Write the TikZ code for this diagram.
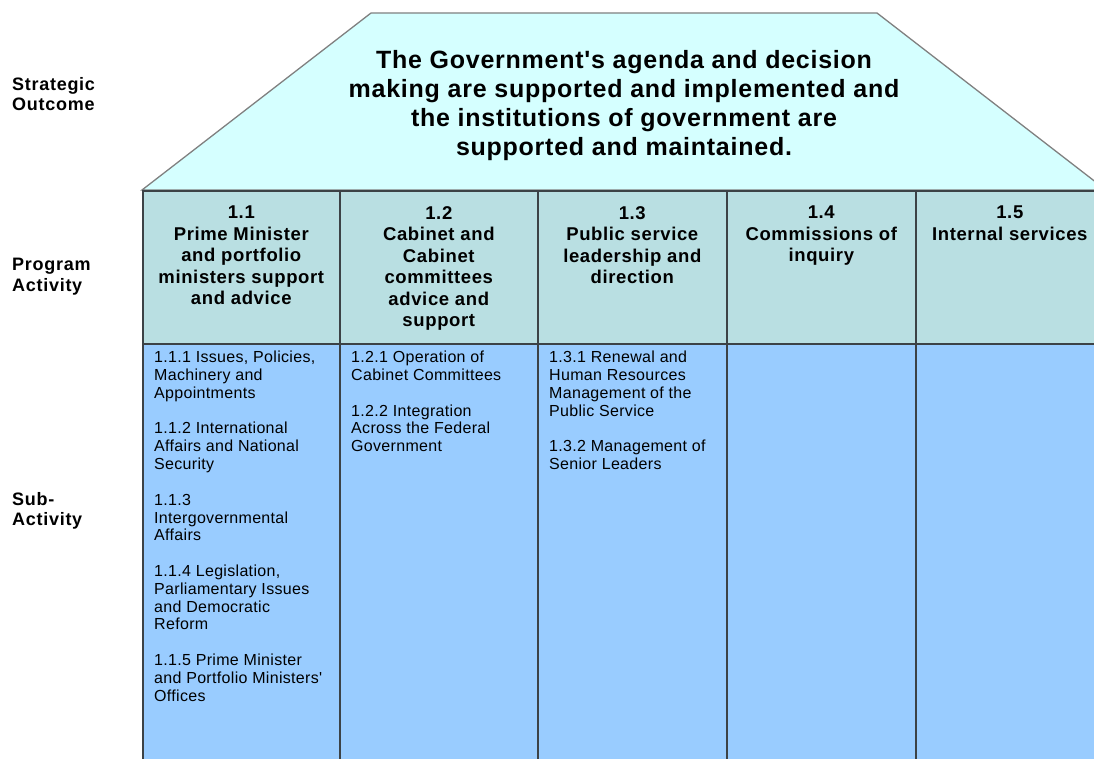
\documentclass[tikz,border=0pt]{standalone}
\usepackage{fontspec}
\setmainfont{Liberation Sans}[Ligatures=TeXOff]
\newfontfamily\sofont{Liberation Sans}[LetterSpace=3,Ligatures=TeXOff]
\newfontfamily\pafont{Liberation Sans}[LetterSpace=3.4,Ligatures=TeXOff]
\newfontfamily\subfont{Liberation Sans}[LetterSpace=2,Ligatures=TeXOff]
\newfontfamily\labelfont{Liberation Sans}[LetterSpace=4,Ligatures=TeXOff]
\usepackage{tikz}
\usetikzlibrary{positioning}
\definecolor{soblue}{RGB}{213,255,255}
\definecolor{pablue}{RGB}{185,223,226}
\definecolor{subblue}{RGB}{153,204,255}
\definecolor{gridgray}{RGB}{60,66,70}
\tikzstyle{outcome}=[draw=black!50,line width=1.3pt,fill=soblue]
\tikzstyle{pacell}=[draw=gridgray,line width=1.6pt,fill=pablue,anchor=north west,minimum height=153pt,inner sep=0pt]
\tikzstyle{subcell}=[draw=gridgray,line width=1.6pt,fill=subblue,anchor=north west,minimum height=425pt,inner sep=0pt]

\begin{document}
\begin{tikzpicture}[x=1pt,y=-1pt]
    \tikzstyle{rowlabel}=[anchor=north west,align=left,inner sep=0pt,font=\labelfont\bfseries\fontsize{18}{20.5}\selectfont]
    \tikzstyle{patext}=[anchor=north,align=center,inner sep=0pt,font=\pafont\bfseries\fontsize{18.5}{21.5}\selectfont]
    \tikzstyle{subtext}=[anchor=north west,align=left,inner sep=0pt,font=\subfont\fontsize{16}{17.8}\selectfont]
    \useasboundingbox (0,0) rectangle (1094,759);
    % strategic outcome
    \draw[outcome] (371,13) -- (877,13) -- (1106,190) -- (142,190) -- cycle;
    \node[align=center,inner sep=0pt,font=\sofont\bfseries\fontsize{25}{29}\selectfont] (so) at (624,106)
        {The Government's agenda and decision\\making are supported and implemented and\\the institutions of government are\\supported and maintained.};
    % program activities
    \node[pacell,minimum width=197pt] (pa1) at (142,190) {};
    \node[pacell,minimum width=198pt] (pa2) at (339,190) {};
    \node[pacell,minimum width=189pt] (pa3) at (537,190) {};
    \node[pacell,minimum width=189pt] (pa4) at (726,190) {};
    \node[pacell,minimum width=200pt] (pa5) at (915,190) {};
    \node[patext] (pa1t) at ([yshift=-16pt]pa1.north) {1.1\\Prime Minister\\and portfolio\\ministers support\\and advice};
    \node[patext] (pa2t) at ([yshift=-16pt]pa2.north) {1.2\\Cabinet and\\Cabinet\\committees\\advice and\\support};
    \node[patext] (pa3t) at ([yshift=-16pt]pa3.north) {1.3\\Public service\\leadership and\\direction};
    \node[patext] (pa4t) at ([yshift=-16pt]pa4.north) {1.4\\Commissions of\\inquiry};
    \node[patext] (pa5t) at ([yshift=-16pt,xshift=-6pt]pa5.north) {1.5\\Internal services};
    % sub-activities
    \node[subcell,minimum width=197pt] (sub1) at (142,343) {};
    \node[subcell,minimum width=198pt] (sub2) at (339,343) {};
    \node[subcell,minimum width=189pt] (sub3) at (537,343) {};
    \node[subcell,minimum width=189pt] (sub4) at (726,343) {};
    \node[subcell,minimum width=200pt] (sub5) at (915,343) {};
    \node[subtext] (sub1t) at ([xshift=12pt,yshift=-8pt]sub1.north west)
        {1.1.1 Issues, Policies,\\Machinery and\\Appointments\\[17.8pt]1.1.2 International\\Affairs and National\\Security\\[17.8pt]1.1.3\\Intergovernmental\\Affairs\\[17.8pt]1.1.4 Legislation,\\Parliamentary Issues\\and Democratic\\Reform\\[17.8pt]1.1.5 Prime Minister\\and Portfolio Ministers'\\Offices};
    \node[subtext] (sub2t) at ([xshift=12pt,yshift=-8pt]sub2.north west)
        {1.2.1 Operation of\\Cabinet Committees\\[17.8pt]1.2.2 Integration\\Across the Federal\\Government};
    \node[subtext] (sub3t) at ([xshift=12pt,yshift=-8pt]sub3.north west)
        {1.3.1 Renewal and\\Human Resources\\Management of the\\Public Service\\[17.8pt]1.3.2 Management of\\Senior Leaders};
    % row labels
    \node[rowlabel] (solabel) at (12,77) {Strategic\\Outcome};
    \node[rowlabel] (palabel) at (12,258) {Program\\Activity};
    \node[rowlabel] (sublabel) at (12,492) {Sub-\\Activity};
\end{tikzpicture}
\end{document}
